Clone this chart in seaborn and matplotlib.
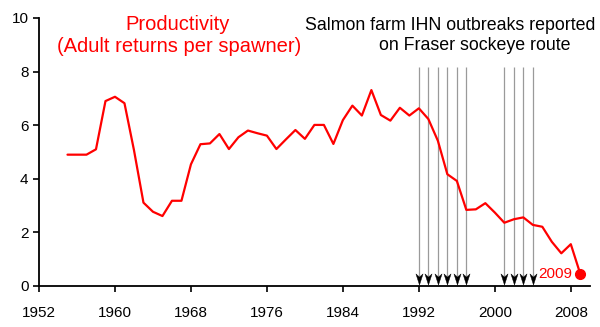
import matplotlib
matplotlib.use("Agg")
import matplotlib.pyplot as plt
from matplotlib.path import Path
import seaborn as sns
import pandas as pd

# Fraser sockeye productivity (adult returns per spawner), by brood year
years = list(range(1955, 2010))
productivity = [
    4.90, 4.90, 4.90, 5.10, 6.90, 7.06, 6.82, 5.07, 3.11, 2.77,
    2.61, 3.18, 3.18, 4.54, 5.29, 5.32, 5.67, 5.11, 5.55, 5.80,
    5.70, 5.61, 5.11, 5.47, 5.82, 5.49, 6.01, 6.01, 5.30, 6.19,
    6.73, 6.36, 7.31, 6.38, 6.17, 6.65, 6.36, 6.63, 6.23, 5.42,
    4.17, 3.92, 2.84, 2.86, 3.09, 2.74, 2.36, 2.49, 2.56, 2.28,
    2.21, 1.65, 1.22, 1.56, 0.45,
]

# Years with reported salmon-farm IHN outbreaks
outbreak_years = [1992, 1993, 1994, 1995, 1996, 1997, 2001, 2002, 2003, 2004]

x_ticks = [1952, 1960, 1968, 1976, 1984, 1992, 2000, 2008]
y_ticks = [0, 2, 4, 6, 8, 10]

df = pd.DataFrame({"year": years, "productivity": productivity})

sns.set_theme(style="ticks")
plt.rcParams["font.family"] = ["Liberation Sans", "DejaVu Sans"]

RED = "#ff0000"

fig = plt.figure(figsize=(6.0, 3.27), dpi=100)
ax = fig.add_axes([0.065, 0.1254, 0.918, 0.8196])

sns.lineplot(data=df, x="year", y="productivity", ax=ax, color=RED,
             linewidth=1.6, zorder=3)

# Final year highlighted
last_year, last_val = years[-1], productivity[-1]
ax.plot([last_year], [last_val], "o", color=RED, markersize=7, zorder=4)
ax.text(last_year - 0.8, last_val, str(last_year), color=RED, fontsize=11,
        ha="right", va="center", zorder=4)

# Notched arrowhead pointing down
head = Path([(0, -0.5), (-0.32, 0.5), (0, 0.22), (0.32, 0.5), (0, -0.5)],
            [Path.MOVETO, Path.LINETO, Path.LINETO, Path.LINETO, Path.CLOSEPOLY])

# Outbreak arrows: grey shaft, black head
arrow_top, head_center = 8.17, 0.26
outbreak_df = pd.DataFrame({"year": outbreak_years,
                            "y": [head_center] * len(outbreak_years)})
ax.vlines(outbreak_years, head_center + 0.1, arrow_top, color="#9a9a9a",
          linewidth=0.9, zorder=2)
sns.scatterplot(data=outbreak_df, x="year", y="y", ax=ax, marker=head,
                s=64, color="black", edgecolor="black", linewidth=0.3,
                zorder=3, legend=False)

ax.set_xlim(1952, 2010)
ax.set_ylim(0, 10)
ax.set_xticks(x_ticks)
ax.set_yticks(y_ticks)
ax.set_xlabel("")
ax.set_ylabel("")
sns.despine(ax=ax)
for side in ("left", "bottom"):
    ax.spines[side].set_linewidth(1.3)
    ax.spines[side].set_color("black")
ax.tick_params(axis="both", direction="out", length=4.5, width=1.2,
               colors="black", labelsize=11)
ax.tick_params(axis="x", pad=10)
ax.tick_params(axis="y", pad=3)

# Annotations
fig.text(178 / 600, 1 - 25 / 327, "Productivity", color=RED, fontsize=14.5,
         ha="center", va="center")
fig.text(179 / 600, 1 - 47 / 327, "(Adult returns per spawner)", color=RED,
         fontsize=14.5, ha="center", va="center")
fig.text(450 / 600, 1 - 25 / 327, "Salmon farm IHN outbreaks reported",
         color="black", fontsize=12.8, ha="center", va="center")
fig.text(475 / 600, 1 - 46 / 327, "on Fraser sockeye route", color="black",
         fontsize=12.8, ha="center", va="center")

fig.savefig("out.png", dpi=100)
